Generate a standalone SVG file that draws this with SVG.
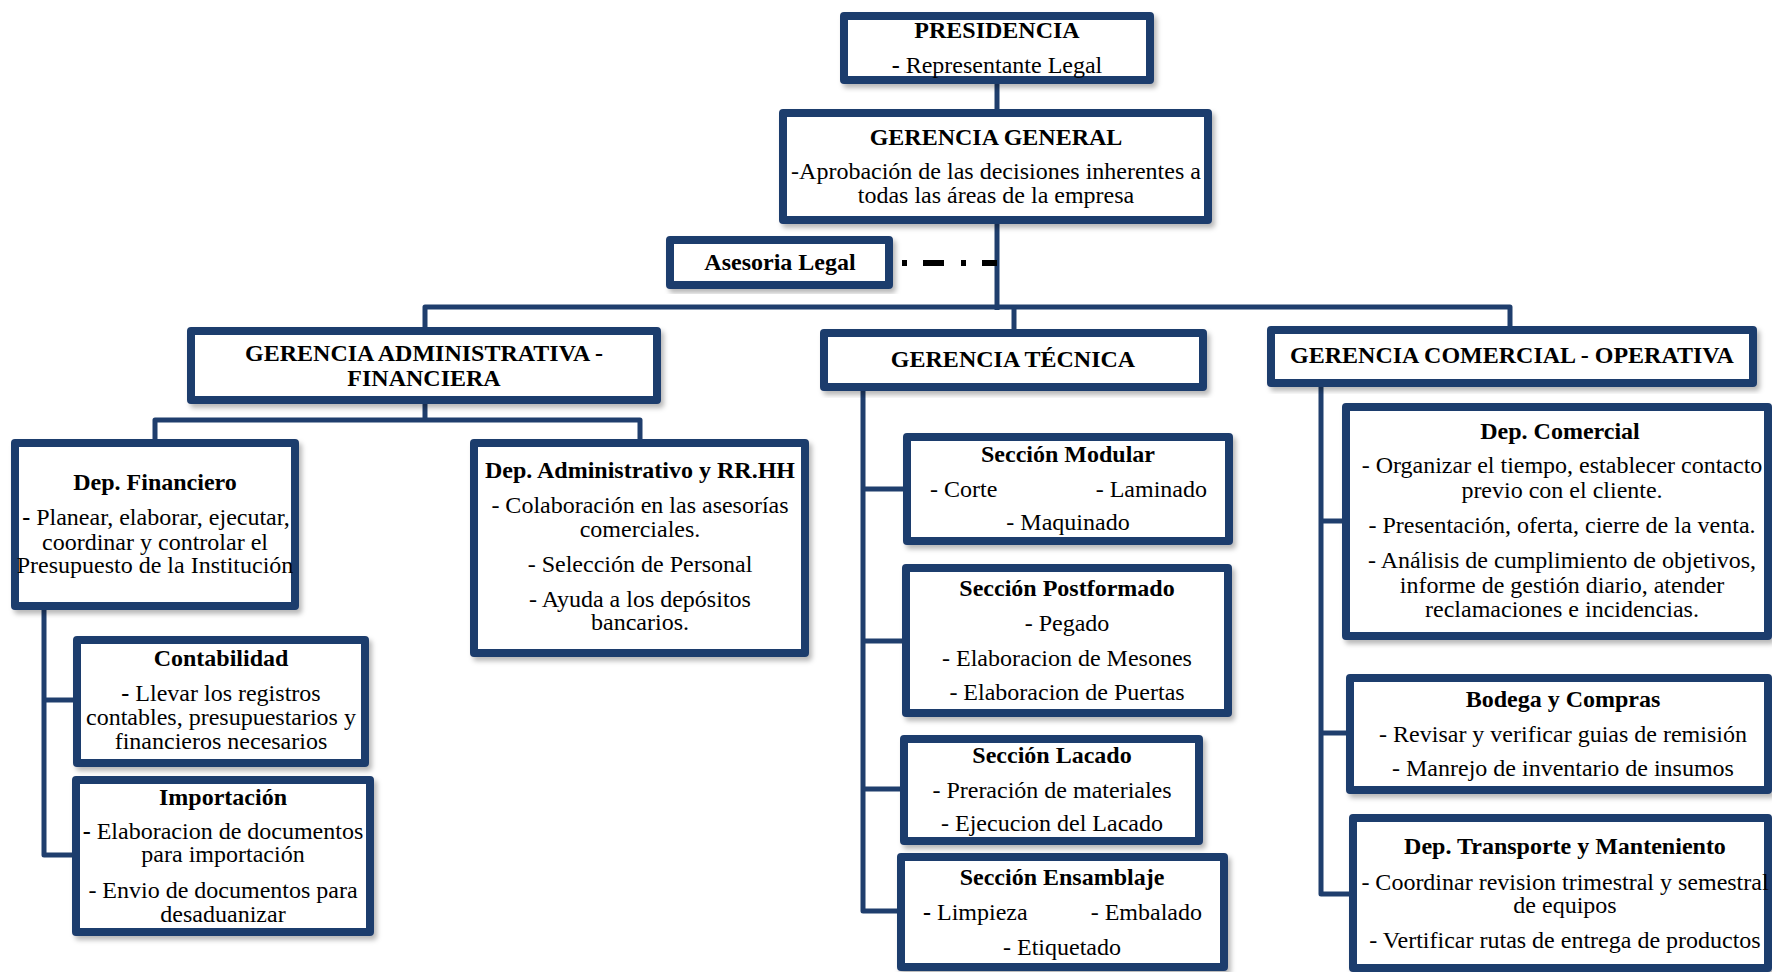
<svg xmlns="http://www.w3.org/2000/svg" width="1772" height="972" viewBox="0 0 1772 972">
  <defs>
    <filter id="sh" x="-10%" y="-10%" width="125%" height="130%">
      <feDropShadow dx="3" dy="4" stdDeviation="2.5" flood-color="#000" flood-opacity="0.28"/>
    </filter>
    <style>
      .box { fill: #ffffff; stroke: #1F3E6D; stroke-width: 8; stroke-linejoin: round; filter: url(#sh); }
      .conn { fill: none; stroke: #1F3E6D; stroke-width: 5; stroke-linejoin: round; }
      .dash { fill: none; stroke: #000; stroke-width: 6; stroke-dasharray: 5 16 21 17; }
      text { font-family: "Liberation Serif", "Times New Roman", serif; font-size: 24px; fill: #000; text-anchor: middle; }
      .b { font-weight: bold; }
      .s { text-anchor: start; }
      .e { text-anchor: end; }
    </style>
  </defs>
  <rect width="1772" height="972" fill="#ffffff"/>

  <!-- connectors -->
  <g id="connectors">
    <path class="conn" d="M997 84 V110"/>
    <path class="conn" d="M997 224 V310"/>
    <path class="conn" d="M425 327 V307 H1510 V327"/>
    <path class="conn" d="M1014 307 V329"/>
    <path class="dash" d="M902 263 H997"/>
    <!-- administrativa -->
    <path class="conn" d="M425 404 V420"/>
    <path class="conn" d="M155 440 V420 H640 V440"/>
    <path class="conn" d="M44 610 V855 H73"/>
    <path class="conn" d="M44 700 H74"/>
    <!-- tecnica -->
    <path class="conn" d="M863 391 V911 H898"/>
    <path class="conn" d="M863 489 H904"/>
    <path class="conn" d="M863 641 H903"/>
    <path class="conn" d="M863 789 H901"/>
    <!-- comercial -->
    <path class="conn" d="M1321 387 V894 H1350"/>
    <path class="conn" d="M1321 521 H1343"/>
    <path class="conn" d="M1321 733 H1347"/>
  </g>

  <g id="presidencia">
    <rect class="box" x="844" y="16" width="306" height="64"/>
    <text class="b" x="997" y="38">PRESIDENCIA</text>
    <text x="997" y="73"><tspan class="b">-</tspan> Representante Legal</text>
  </g>

  <g id="gerencia-general">
    <rect class="box" x="783" y="113" width="425" height="107"/>
    <text class="b" x="996" y="145">GERENCIA GENERAL</text>
    <text x="996" y="179">-Aprobación de las decisiones inherentes a</text>
    <text x="996" y="203">todas las áreas de la empresa</text>
  </g>

  <g id="asesoria-legal">
    <rect class="box" x="670" y="240" width="219" height="45"/>
    <text class="b" x="780" y="270">Asesoria Legal</text>
  </g>

  <g id="gerencia-administrativa">
    <rect class="box" x="191" y="331" width="466" height="69"/>
    <text class="b" x="424" y="361">GERENCIA ADMINISTRATIVA -</text>
    <text class="b" x="424" y="386">FINANCIERA</text>
  </g>

  <g id="gerencia-tecnica">
    <rect class="box" x="824" y="333" width="379" height="54"/>
    <text class="b" x="1013" y="367">GERENCIA TÉCNICA</text>
  </g>

  <g id="gerencia-comercial">
    <rect class="box" x="1271" y="330" width="482" height="53"/>
    <text class="b" x="1512" y="363">GERENCIA COMERCIAL - OPERATIVA</text>
  </g>

  <g id="dep-financiero">
    <rect class="box" x="15" y="443" width="280" height="163"/>
    <text class="b" x="155" y="490">Dep. Financiero</text>
    <text x="156" y="525"><tspan class="b">-</tspan> Planear, elaborar, ejecutar,</text>
    <text x="155" y="550">coordinar y controlar el</text>
    <text x="155" y="573">Presupuesto de la Institución</text>
  </g>

  <g id="dep-administrativo">
    <rect class="box" x="474" y="443" width="331" height="210"/>
    <text class="b" x="640" y="478">Dep. Administrativo y RR.HH</text>
    <text x="640" y="513">- Colaboración en las asesorías</text>
    <text x="640" y="537">comerciales.</text>
    <text x="640" y="572">- Selección de Personal</text>
    <text x="640" y="607">- Ayuda a los depósitos</text>
    <text x="640" y="630">bancarios.</text>
  </g>

  <g id="contabilidad">
    <rect class="box" x="77" y="640" width="288" height="123"/>
    <text class="b" x="221" y="666">Contabilidad</text>
    <text x="221" y="701"><tspan class="b">-</tspan> Llevar los registros</text>
    <text x="221" y="725">contables, presupuestarios y</text>
    <text x="221" y="749">financieros necesarios</text>
  </g>

  <g id="importacion">
    <rect class="box" x="76" y="780" width="294" height="152"/>
    <text class="b" x="223" y="805">Importación</text>
    <text x="223" y="839"><tspan class="b">-</tspan> Elaboracion de documentos</text>
    <text x="223" y="862">para importación</text>
    <text x="223" y="898">- Envio de documentos para</text>
    <text x="223" y="922">desaduanizar</text>
  </g>

  <g id="seccion-modular">
    <rect class="box" x="907" y="437" width="322" height="104"/>
    <text class="b" x="1068" y="462">Sección Modular</text>
    <text class="s" x="930" y="497">- Corte</text>
    <text class="e" x="1207" y="497">- Laminado</text>
    <text x="1068" y="530">- Maquinado</text>
  </g>

  <g id="seccion-postformado">
    <rect class="box" x="906" y="568" width="322" height="145"/>
    <text class="b" x="1067" y="596">Sección Postformado</text>
    <text x="1067" y="631">- Pegado</text>
    <text x="1067" y="666">- Elaboracion de Mesones</text>
    <text x="1067" y="700">- Elaboracion de Puertas</text>
  </g>

  <g id="seccion-lacado">
    <rect class="box" x="904" y="739" width="295" height="102"/>
    <text class="b" x="1052" y="763">Sección Lacado</text>
    <text x="1052" y="798">- Preración de materiales</text>
    <text x="1052" y="831">- Ejecucion del Lacado</text>
  </g>

  <g id="seccion-ensamblaje">
    <rect class="box" x="901" y="857" width="323" height="110"/>
    <text class="b" x="1062" y="885">Sección Ensamblaje</text>
    <text class="s" x="923" y="920"><tspan class="b">-</tspan> Limpieza</text>
    <text class="e" x="1202" y="920">- Embalado</text>
    <text x="1062" y="955">- Etiquetado</text>
  </g>

  <g id="dep-comercial">
    <rect class="box" x="1346" y="407" width="422" height="229"/>
    <text class="b" x="1560" y="439">Dep. Comercial</text>
    <text x="1562" y="473">- Organizar el tiempo, establecer contacto</text>
    <text x="1562" y="498">previo con el cliente.</text>
    <text x="1562" y="533">- Presentación, oferta, cierre de la venta.</text>
    <text x="1562" y="568">- Análisis de cumplimiento de objetivos,</text>
    <text x="1562" y="593">informe de gestión diario, atender</text>
    <text x="1562" y="617">reclamaciones e incidencias.</text>
  </g>

  <g id="bodega-compras">
    <rect class="box" x="1350" y="678" width="418" height="112"/>
    <text class="b" x="1563" y="707">Bodega y Compras</text>
    <text x="1563" y="742">- Revisar y verificar guias de remisión</text>
    <text x="1563" y="776">- Manrejo de inventario de insumos</text>
  </g>

  <g id="dep-transporte">
    <rect class="box" x="1353" y="818" width="415" height="150"/>
    <text class="b" x="1565" y="854">Dep. Transporte y Manteniento</text>
    <text x="1565" y="890">- Coordinar revision trimestral y semestral</text>
    <text x="1565" y="913">de equipos</text>
    <text x="1565" y="948">- Vertificar rutas de entrega de productos</text>
  </g>
</svg>
